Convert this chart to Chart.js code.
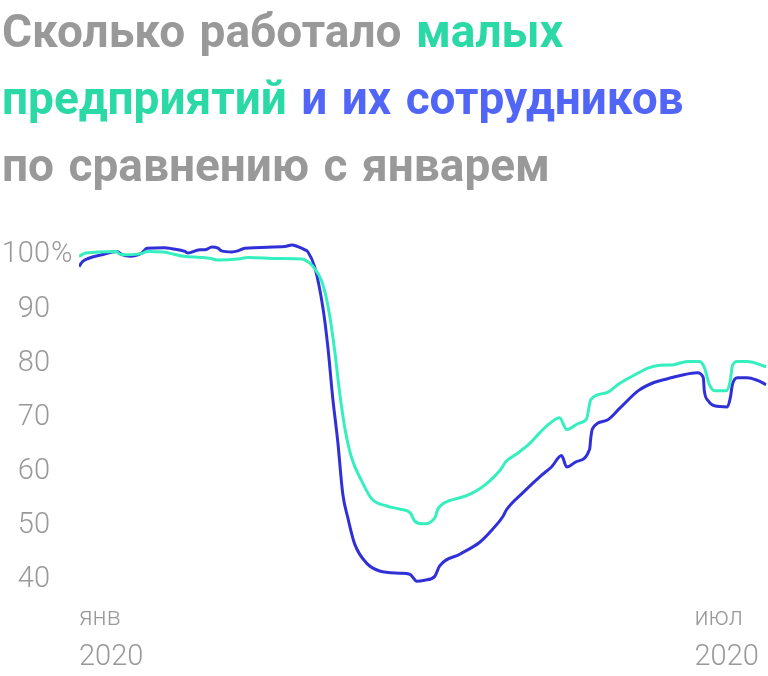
<!DOCTYPE html>
<html lang="ru">
<head>
<meta charset="utf-8">
<title>Сколько работало малых предприятий</title>
<script src="https://cdn.jsdelivr.net/npm/chart.js@4.4.1/dist/chart.umd.min.js"></script>
<style>
    html, body {
        margin: 0;
        padding: 0;
        background: #fff;
    }
    .wrap {
        position: relative;
        width: 768px;
        height: 676px;
        overflow: hidden;
    }
    .title {
        position: absolute;
        left: 2px;
        top: -2px;
        margin: 0;
        font-family: Roboto, "Noto Sans", sans-serif;
        font-weight: 700;
        font-size: 46px;
        line-height: 67px;
        letter-spacing: 0;
        word-spacing: 3px;
        color: #999999;
        z-index: 2;
    }
    .title .teal { color: #2bd9a6; }
    .title .blue { color: #5166f7; }
    canvas {
        position: absolute;
        left: 0;
        top: 0;
    }
</style>
</head>
<body>
<div class="wrap">
    <h1 class="title">Сколько работало <span class="teal">малых</span><br><span class="teal">предприятий</span> <span class="blue">и их сотрудников</span><br>по сравнению с январем</h1>
    <canvas id="chart" width="768" height="676"></canvas>
</div>
<script>
// Days counted from 1 January 2020
const smallBizDays = [0, 2, 11, 12, 14, 19, 20, 25, 28, 31, 36, 39, 41, 47, 50, 59, 66, 67.7, 69, 72, 74, 75.6, 77, 78.6, 80.6, 83.6, 86.6, 91, 95, 98, 99.3, 101.6, 105.2, 106.1, 107.6, 114.6, 118.5, 121.4, 124.4, 126.4, 129.4, 133.2, 136.2, 139.1, 142.1, 144.2, 147.8, 150.1, 151.3, 156, 159.8, 165.2, 168, 171.7, 175.8, 179.9, 183.5, 184.9, 186.4, 187.9, 191.4, 192.6, 193.2, 194.7, 197.6, 203.2];
const smallBizValues = [99.8, 100.4, 100.7, 100.2, 100.1, 100.4, 100.7, 100.6, 100.2, 99.8, 99.6, 99.4, 99.1, 99.3, 99.6, 99.4, 99.3, 98.8, 98.1, 94.8, 89.3, 82.4, 75.0, 68.1, 62.6, 58.3, 55.0, 53.7, 53.1, 52.4, 50.9, 50.4, 51.5, 53.1, 54.1, 55.6, 56.9, 58.3, 60.2, 62.0, 63.3, 65.2, 67.2, 68.9, 70.0, 67.8, 69.0, 69.8, 73.3, 74.6, 76.3, 78.2, 79.1, 79.7, 79.8, 80.4, 80.4, 79.3, 76.1, 75.0, 75.0, 76.9, 79.6, 80.4, 80.4, 79.4];

const staffDays = [0, 1, 2.7, 6.8, 11.2, 12.7, 15.1, 18.6, 20.1, 25.4, 27.5, 31.3, 32.2, 35.7, 37.2, 39.3, 41.1, 42.2, 45.2, 47, 49, 60.9, 62.9, 64.7, 66.8, 67.7, 69.7, 72.1, 73.6, 75, 76.5, 78, 79.5, 81.5, 85.1, 88.9, 94.8, 97.8, 99.9, 102.2, 105.2, 106.6, 112.6, 118.5, 122.3, 125.3, 126.4, 131.5, 136.8, 139.7, 142.7, 144.2, 147.1, 151, 151.3, 151.8, 156, 160, 165.4, 170, 174, 177.8, 182.8, 184.6, 184.9, 186.1, 187.9, 191.7, 192.6, 193.2, 194.7, 197.6, 200.6, 203.2];
const staffValues = [97.9, 98.8, 99.4, 100.1, 100.7, 100.1, 99.8, 100.4, 101.3, 101.4, 101.2, 100.7, 100.4, 101.0, 101.0, 101.5, 101.3, 100.8, 100.6, 100.8, 101.3, 101.6, 101.9, 101.6, 101.0, 100.6, 97.8, 90.4, 83.0, 73.8, 65.7, 55.9, 51.5, 46.7, 43.1, 41.7, 41.3, 41.1, 39.8, 40.0, 40.7, 42.6, 44.8, 47.0, 49.4, 51.7, 53.0, 56.3, 59.4, 60.9, 63.0, 60.9, 61.9, 64.2, 66.1, 67.9, 69.5, 71.8, 75.0, 76.5, 77.2, 77.8, 78.3, 77.4, 75.0, 73.1, 72.2, 72.0, 73.7, 76.1, 77.4, 77.4, 76.9, 76.1];

// Axis ticks
const yTicks = [40, 50, 60, 70, 80, 90, 100];
const xTickDays = [0, 182];
const xMonthLabels = ['янв', 'июл'];
const xYearLabels = ['2020', '2020'];

const TEAL = '#36efbf';
const BLUE = '#3030d8';
const GREY = '#999999';
const FONT = 'Roboto, "Noto Sans", sans-serif';

function toPoints(days, values) {
    return days.map((d, i) => ({ x: d, y: values[i] }));
}

function fixedTicks(values) {
    return function(scale) {
        scale.ticks = values.map(v => ({ value: v }));
    };
}

// Draws the "%" sign hanging after the 100 tick label
const percentSign = {
    id: 'percentSign',
    afterDraw(chart) {
        const y = chart.scales.y;
        const ctx = chart.ctx;
        ctx.save();
        ctx.font = '300 29px ' + FONT;
        ctx.fillStyle = GREY;
        ctx.textAlign = 'left';
        ctx.textBaseline = 'middle';
        ctx.fillText('%', y.right - y.options.ticks.padding + 1, y.getPixelForValue(100));
        ctx.restore();
    }
};

const xCommon = {
    type: 'linear',
    position: 'bottom',
    min: 0,
    max: 203.3,
    grid: { display: false, drawTicks: false, tickLength: 0 },
    border: { display: false }
};

new Chart(document.getElementById('chart'), {
    type: 'line',
    data: {
        datasets: [{
            label: 'Малые предприятия',
            data: toPoints(smallBizDays, smallBizValues),
            borderColor: TEAL,
            borderWidth: 3,
            pointRadius: 0,
            cubicInterpolationMode: 'monotone',
            fill: false
        }, {
            label: 'Сотрудники',
            data: toPoints(staffDays, staffValues),
            borderColor: BLUE,
            borderWidth: 3,
            pointRadius: 0,
            cubicInterpolationMode: 'monotone',
            fill: false
        }]
    },
    options: {
        responsive: false,
        animation: false,
        layout: {
            padding: { top: 239, right: 0, bottom: 0, left: 0 }
        },
        plugins: {
            legend: { display: false },
            tooltip: { enabled: false }
        },
        scales: {
            x: Object.assign({}, xCommon, {
                weight: 0,
                afterBuildTicks: fixedTicks(xTickDays),
                afterFit: scale => { scale.height = 40; },
                ticks: {
                    align: 'start',
                    padding: 13,
                    color: GREY,
                    font: { family: FONT, size: 25, weight: '300' },
                    maxRotation: 0,
                    autoSkip: false,
                    callback: (v, i) => xMonthLabels[i]
                }
            }),
            xYear: Object.assign({}, xCommon, {
                weight: 1,
                afterBuildTicks: fixedTicks(xTickDays),
                afterFit: scale => { scale.height = 45; },
                ticks: {
                    align: 'start',
                    padding: 9,
                    color: GREY,
                    font: { family: FONT, size: 29, weight: '300' },
                    maxRotation: 0,
                    autoSkip: false,
                    callback: (v, i) => xYearLabels[i]
                }
            }),
            y: {
                min: 38,
                max: 103,
                grid: { display: false, drawTicks: false, tickLength: 0 },
                border: { display: false },
                afterBuildTicks: fixedTicks(yTicks),
                afterFit: scale => { scale.width = 79; },
                ticks: {
                    padding: 29,
                    color: GREY,
                    font: { family: FONT, size: 29, weight: '300' }
                }
            }
        }
    },
    plugins: [percentSign]
});
</script>
</body>
</html>
